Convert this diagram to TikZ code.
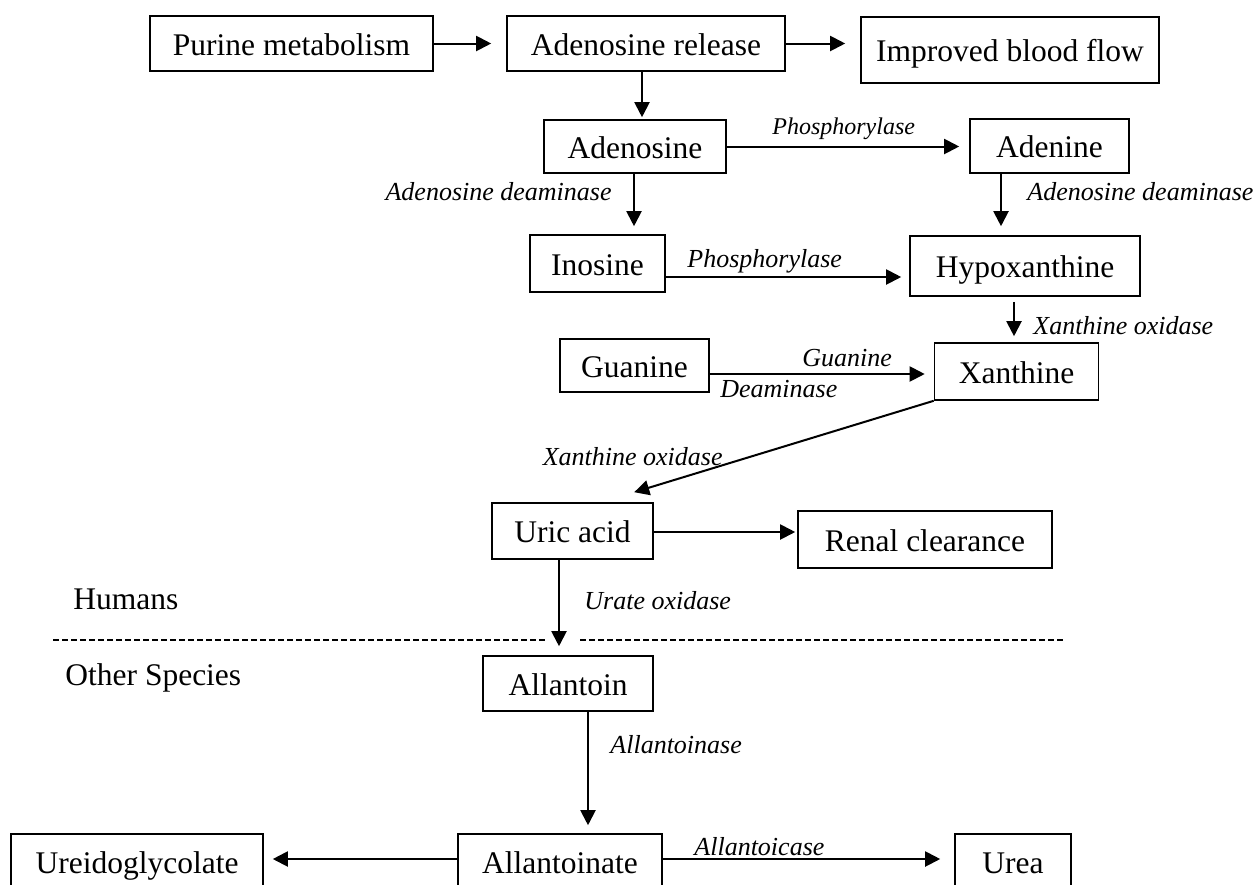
\documentclass[tikz,border=0pt]{standalone}
\usepackage{fontspec}
\setmainfont{Liberation Serif}
\usetikzlibrary{arrows.meta,calc}
\begin{document}
\begin{tikzpicture}[x=0.5pt,y=-0.5pt]
\tikzset{
 box/.style={draw, line width=0.8pt, inner sep=0pt, font=\fontsize{15.75}{18}\selectfont, text height=12pt, text depth=0.5pt, align=center},
 lab/.style={inner sep=0pt, font=\fontsize{13}{15}\selectfont\itshape},
 plain/.style={inner sep=0pt, font=\fontsize{15.75}{18}\selectfont},
 arr/.style={line width=1pt, -{Triangle[length=7.5pt,width=7.5pt]}},
 sep/.style={line width=0.65pt, dash pattern=on 3pt off 1.5pt},
}
\fill[white] (0,0) rectangle (1258,884);
\useasboundingbox (0,0) rectangle (1258,884);
\clip (0,0) rectangle (1258,884);

% boxes
\node[box, minimum width=141.5pt, minimum height=27.5pt] (pm) at (291.5,43.5) {Purine metabolism};
\node[box, minimum width=139pt, minimum height=27.5pt] (ar) at (646,43.5) {Adenosine release};
\node[box, minimum width=149pt, minimum height=33pt] (ibf) at (1010,50) {Improved blood flow};
\node[box, minimum width=91pt, minimum height=26.5pt] (ado) at (635,146.5) {Adenosine};
\node[box, minimum width=79.5pt, minimum height=27pt] (ade) at (1049.5,146) {Adenine};
\node[box, minimum width=67.5pt, minimum height=28.5pt] (ino) at (597.5,263.5) {Inosine};
\node[box, minimum width=115pt, minimum height=30pt] (hyp) at (1025,266) {Hypoxanthine};
\node[box, minimum width=74.5pt, minimum height=26.5pt] (gua) at (634.5,365.5) {Guanine};
\node[box, minimum width=82pt, minimum height=28.5pt] (xan) at (1016.5,371.5) {Xanthine};
\node[box, minimum width=80.5pt, minimum height=28pt] (uric) at (572.5,531) {Uric acid};
\node[box, minimum width=127pt, minimum height=28.5pt] (ren) at (925,539.5) {Renal clearance};
\node[box, minimum width=85pt, minimum height=27.5pt] (all) at (568,683.5) {Allantoin};
\node[box, minimum width=126pt, minimum height=27.5pt] (ure) at (137,861.5) {Ureidoglycolate};
\node[box, minimum width=102pt, minimum height=27.5pt] (alt) at (560,861.5) {Allantoinate};
\node[box, minimum width=58pt, minimum height=27.5pt] (urea) at (1013,861.5) {Urea};

% labels
\node[lab, font=\fontsize{12}{14}\selectfont\itshape, anchor=base west] (l1) at (772,134) {Phosphorylase};
\node[lab, anchor=base west] (l2) at (687,267) {Phosphorylase};
\node[lab, anchor=base east] (l3) at (612,200) {Adenosine deaminase};
\node[lab, anchor=base west] (l4) at (1027,200) {Adenosine deaminase};
\node[lab, anchor=base west] (l5) at (1033,334) {Xanthine oxidase};
\node[lab, anchor=base west] (l6) at (802,366) {Guanine};
\node[lab, anchor=base west] (l7) at (720,397) {Deaminase};
\node[lab, anchor=base east] (l8) at (723,465) {Xanthine oxidase};
\node[lab, anchor=base west] (l9) at (584,609) {Urate oxidase};
\node[lab, anchor=base west] (l10) at (610,753) {Allantoinase};
\node[lab, anchor=base west] (l11) at (694,855) {Allantoicase};
\node[plain, anchor=base west] (hum) at (73,609) {Humans};
\node[plain, anchor=base west] (oth) at (65,685) {Other Species};

% separator
\coordinate (s1) at (53,640);
\coordinate (s2) at (545,640);
\coordinate (s3) at (580,640);
\coordinate (s4) at (1065,640);
\draw[sep] (s1) -- (s2);
\draw[sep] (s3) -- (s4);

% arrows
\draw[arr, shorten >=7.5pt] (pm.east) -- (pm.east -| ar.west);
\draw[arr, shorten >=7.5pt] (ar.east) -- (ar.east -| ibf.west);
\draw[arr, shorten >=1pt] (ar.south -| 642,0) -- (ado.north -| 642,0);
\draw[arr, shorten >=5pt] (ado.east) -- (ado.east -| ade.west);
\draw[arr, shorten >=4pt] (ado.south -| 634,0) -- (ino.north -| 634,0);
\draw[arr, shorten >=4.5pt] (ade.south -| 1001,0) -- (hyp.north -| 1001,0);
\draw[arr, shorten >=4pt] (ino.east |- 0,277) -- (hyp.west |- 0,277);
\draw[arr, shorten <=2.5pt, shorten >=3pt] (hyp.south -| 1014,0) -- (xan.north -| 1014,0);
\draw[arr, shorten >=4.5pt] (gua.east |- 0,374) -- (xan.west |- 0,374);
\draw[arr] (xan.south west) -- ($(uric.north west)+(143,-10)$);
\draw[arr, shorten >=1pt] (uric.east |- 0,532) -- (ren.west |- 0,532);
\draw[arr, shorten >=4.5pt] (uric.south -| 559,0) -- (all.north -| 559,0);
\draw[arr, shorten >=4pt] (all.south -| 588,0) -- (alt.north -| 588,0);
\draw[arr, shorten >=4.5pt] (alt.west |- 0,859) -- (ure.east |- 0,859);
\draw[arr, shorten >=7pt] (alt.east |- 0,859) -- (urea.west |- 0,859);
\end{tikzpicture}
\end{document}
